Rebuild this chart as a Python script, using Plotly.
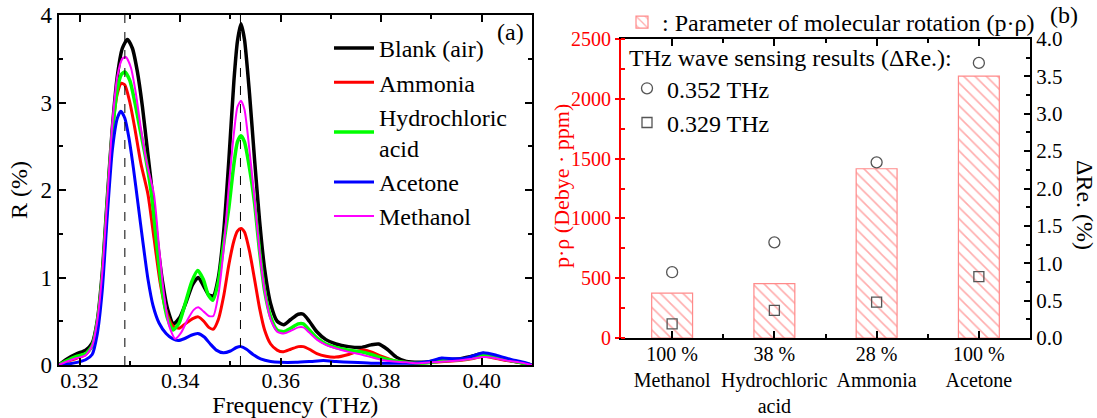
import plotly.graph_objects as go

# ---------------- Panel (a) data: reflectance spectra ----------------
blank_f = [0.3158, 0.3175, 0.3195, 0.3212, 0.3225, 0.3235, 0.3245, 0.3255, 0.3265, 0.3275, 0.3285, 0.3295,
           0.3305, 0.3315, 0.3325, 0.3335, 0.3345, 0.3355, 0.3365, 0.3375, 0.3387, 0.3400, 0.3412, 0.3425,
           0.3436, 0.3447, 0.3457, 0.3466, 0.3476, 0.3487, 0.3497, 0.3507, 0.3514, 0.3521, 0.3528, 0.3538,
           0.3548, 0.3558, 0.3568, 0.3580, 0.3593, 0.3606, 0.3620, 0.3635, 0.3645, 0.3657, 0.3672, 0.3690,
           0.3710, 0.3735, 0.3760, 0.3780, 0.3795, 0.3812, 0.3830, 0.3850, 0.3875, 0.3900, 0.3925, 0.3955,
           0.3980, 0.4003, 0.4025, 0.4050, 0.4075, 0.4100]
blank_r = [0.00, 0.07, 0.13, 0.17, 0.25, 0.50, 1.05, 1.90, 2.70, 3.30, 3.62, 3.72,
           3.62, 3.35, 2.95, 2.45, 1.95, 1.40, 0.95, 0.64, 0.47, 0.55, 0.72, 0.92,
           1.00, 0.90, 0.80, 0.79, 1.00, 1.55, 2.35, 3.25, 3.70, 3.90, 3.72, 3.10,
           2.35, 1.65, 1.10, 0.70, 0.50, 0.46, 0.52, 0.58, 0.58, 0.50, 0.38, 0.29,
           0.24, 0.21, 0.20, 0.23, 0.24, 0.18, 0.09, 0.04, 0.03, 0.04, 0.06, 0.07,
           0.10, 0.13, 0.10, 0.06, 0.03, 0.00]

ammonia_f = [0.3158, 0.3175, 0.3195, 0.3212, 0.3225, 0.3235, 0.3245, 0.3255, 0.3265, 0.3275, 0.3283, 0.3290,
             0.3300, 0.3310, 0.3322, 0.3336, 0.3348, 0.3360, 0.3372, 0.3385, 0.3398, 0.3410, 0.3425, 0.3436,
             0.3447, 0.3457, 0.3466, 0.3476, 0.3487, 0.3497, 0.3507, 0.3514, 0.3521, 0.3528, 0.3538, 0.3548,
             0.3558, 0.3568, 0.3580, 0.3593, 0.3604, 0.3620, 0.3635, 0.3645, 0.3657, 0.3672, 0.3690, 0.3710,
             0.3735, 0.3755, 0.3765, 0.3780, 0.3800, 0.3825, 0.3850, 0.3875, 0.3900, 0.3925, 0.3955, 0.3980,
             0.4003, 0.4025, 0.4050, 0.4075, 0.4100]
ammonia_r = [0.00, 0.04, 0.08, 0.12, 0.22, 0.48, 1.00, 1.85, 2.65, 3.10, 3.22, 3.20,
             3.00, 2.70, 2.30, 1.95, 1.45, 0.95, 0.62, 0.45, 0.42, 0.47, 0.53, 0.55,
             0.50, 0.43, 0.41, 0.52, 0.80, 1.15, 1.42, 1.53, 1.56, 1.52, 1.30, 0.98,
             0.65, 0.40, 0.24, 0.17, 0.15, 0.18, 0.21, 0.21, 0.18, 0.13, 0.10, 0.09,
             0.12, 0.16, 0.17, 0.15, 0.10, 0.05, 0.03, 0.02, 0.03, 0.04, 0.05, 0.07,
             0.10, 0.08, 0.05, 0.03, 0.00]

hcl_f = [0.3158, 0.3175, 0.3195, 0.3212, 0.3225, 0.3235, 0.3245, 0.3255, 0.3265, 0.3275, 0.3283, 0.3290,
         0.3300, 0.3310, 0.3320, 0.3332, 0.3343, 0.3353, 0.3363, 0.3374, 0.3386, 0.3398, 0.3410, 0.3423,
         0.3435, 0.3446, 0.3456, 0.3465, 0.3476, 0.3487, 0.3497, 0.3507, 0.3514, 0.3521, 0.3528, 0.3538,
         0.3548, 0.3558, 0.3568, 0.3580, 0.3593, 0.3606, 0.3620, 0.3635, 0.3645, 0.3657, 0.3672, 0.3690,
         0.3710, 0.3735, 0.3760, 0.3780, 0.3800, 0.3825, 0.3850, 0.3875, 0.3900, 0.3925, 0.3955, 0.3980,
         0.4003, 0.4025, 0.4050, 0.4075, 0.4100]
hcl_r = [0.00, 0.05, 0.10, 0.13, 0.22, 0.48, 1.00, 1.85, 2.65, 3.15, 3.32, 3.35,
         3.25, 3.00, 2.70, 2.35, 1.95, 1.40, 0.90, 0.55, 0.40, 0.48, 0.70, 0.95,
         1.08, 0.98, 0.80, 0.74, 0.95, 1.40, 1.80, 2.30, 2.55, 2.62, 2.55, 2.25,
         1.85, 1.30, 0.85, 0.55, 0.40, 0.38, 0.42, 0.47, 0.47, 0.40, 0.31, 0.24,
         0.20, 0.17, 0.15, 0.12, 0.08, 0.05, 0.03, 0.02, 0.03, 0.05, 0.06, 0.08,
         0.11, 0.09, 0.06, 0.03, 0.00]

acetone_f = [0.3158, 0.3175, 0.3195, 0.3212, 0.3225, 0.3235, 0.3245, 0.3255, 0.3265, 0.3275, 0.3282, 0.3290,
             0.3298, 0.3307, 0.3316, 0.3326, 0.3336, 0.3346, 0.3358, 0.3372, 0.3385, 0.3396, 0.3408, 0.3422,
             0.3435, 0.3448, 0.3460, 0.3472, 0.3486, 0.3500, 0.3512, 0.3521, 0.3532, 0.3545, 0.3560, 0.3580,
             0.3600, 0.3630, 0.3660, 0.3685, 0.3710, 0.3740, 0.3780, 0.3820, 0.3860, 0.3895, 0.3920, 0.3945,
             0.3970, 0.4003, 0.4030, 0.4060, 0.4085, 0.4100]
acetone_r = [0.00, 0.01, 0.03, 0.06, 0.12, 0.35, 0.85, 1.70, 2.45, 2.82, 2.90, 2.82,
             2.60, 2.25, 1.85, 1.40, 0.98, 0.68, 0.48, 0.36, 0.30, 0.28, 0.30, 0.34,
             0.36, 0.32, 0.24, 0.17, 0.14, 0.16, 0.20, 0.21, 0.18, 0.12, 0.07, 0.04,
             0.03, 0.03, 0.04, 0.05, 0.04, 0.03, 0.02, 0.02, 0.02, 0.04, 0.08, 0.07,
             0.08, 0.14, 0.11, 0.06, 0.03, 0.00]

methanol_f = [0.3158, 0.3175, 0.3195, 0.3212, 0.3225, 0.3235, 0.3245, 0.3255, 0.3265, 0.3275, 0.3285, 0.3292,
              0.3302, 0.3312, 0.3322, 0.3334, 0.3348, 0.3358, 0.3368, 0.3378, 0.3390, 0.3402, 0.3415, 0.3427,
              0.3436, 0.3447, 0.3457, 0.3466, 0.3476, 0.3487, 0.3497, 0.3507, 0.3514, 0.3521, 0.3528, 0.3538,
              0.3548, 0.3558, 0.3568, 0.3580, 0.3593, 0.3606, 0.3620, 0.3635, 0.3645, 0.3657, 0.3672, 0.3690,
              0.3710, 0.3735, 0.3760, 0.3780, 0.3800, 0.3825, 0.3850, 0.3875, 0.3900, 0.3925, 0.3955, 0.3980,
              0.4003, 0.4025, 0.4050, 0.4075, 0.4100]
methanol_r = [0.00, 0.04, 0.08, 0.11, 0.22, 0.50, 1.05, 1.90, 2.75, 3.30, 3.50, 3.52,
              3.40, 3.10, 2.70, 2.30, 1.95, 1.35, 0.80, 0.45, 0.30, 0.37, 0.52, 0.63,
              0.66, 0.61, 0.56, 0.56, 0.80, 1.35, 2.05, 2.65, 2.95, 3.02, 2.92, 2.45,
              1.90, 1.30, 0.85, 0.52, 0.38, 0.36, 0.39, 0.43, 0.43, 0.37, 0.29, 0.23,
              0.19, 0.15, 0.12, 0.09, 0.06, 0.04, 0.03, 0.02, 0.03, 0.04, 0.05, 0.07,
              0.09, 0.08, 0.05, 0.03, 0.00]

marked_freqs = [0.329, 0.352]
freq_range = [0.3158, 0.41]

# ---------------- Panel (b) data ----------------
gases = ["Methanol", "Hydrochloric<br>acid", "Ammonia", "Acetone"]
concentrations = ["100 %", "38 %", "28 %", "100 %"]
p_rho = [375, 455, 1415, 2190]                 # Debye·ppm
dre_352 = [0.88, 1.28, 2.35, 3.68]             # ΔRe. (%) at 0.352 THz
dre_329 = [0.19, 0.37, 0.48, 0.82]             # ΔRe. (%) at 0.329 THz

FONT = "Liberation Serif, Times New Roman, Times, DejaVu Serif, serif"

fig = go.Figure()

spectra = [
    ("Blank (air)", blank_f, blank_r, "#000000", 3.5),
    ("Ammonia", ammonia_f, ammonia_r, "#ff0000", 3.0),
    ("Hydrochloric<br>acid", hcl_f, hcl_r, "#00ff00", 3.5),
    ("Acetone", acetone_f, acetone_r, "#0000ff", 3.0),
    ("Methanol", methanol_f, methanol_r, "#ff00ff", 2.0),
]
for name, f, r, c, w in spectra:
    fig.add_trace(go.Scatter(x=f, y=r, mode="lines", name=name,
                             line=dict(color=c, width=w, shape="spline", smoothing=0.6),
                             xaxis="x", yaxis="y", legend="legend"))

for fm in marked_freqs:
    fig.add_vline(x=fm, line=dict(color="black", width=1, dash="dash"), xref="x", yref="y")

# panel (b)
cat_pos = list(range(1, len(gases) + 1))
cat_text = [f"{c}<br>{g}" for c, g in zip(concentrations, gases)]
minor_pos = [p + 0.5 for p in cat_pos[:-1]]

fig.add_trace(go.Bar(x=cat_pos, y=p_rho, width=0.4, name=": Parameter of molecular rotation (p·ρ)",
                     marker=dict(color="white", line=dict(color="#ff8a8a", width=1.2),
                                 pattern=dict(shape="\\", fgcolor="#ff5a5a", bgcolor="white",
                                              size=8, solidity=0.2)),
                     xaxis="x2", yaxis="y2", legend="legend2"))
fig.add_trace(go.Scatter(x=cat_pos, y=dre_352, mode="markers", name="0.352 THz",
                         marker=dict(symbol="circle-open", size=11, color="#555555", line=dict(width=1.3)),
                         xaxis="x2", yaxis="y3", legend="legend3"))
fig.add_trace(go.Scatter(x=cat_pos, y=dre_329, mode="markers", name="0.329 THz",
                         marker=dict(symbol="square-open", size=10, color="#555555", line=dict(width=1.3)),
                         xaxis="x2", yaxis="y3", legend="legend3"))

W, H = 1097, 418
def px(x): return x / W
def py(y): return 1 - y / H

axis_common = dict(showgrid=False, zeroline=False, showline=True, linewidth=2, automargin=False,
                   tickwidth=2, tickfont=dict(family=FONT, size=23, color="black"))

fig.update_layout(
    width=W, height=H, margin=dict(l=0, r=0, t=0, b=0, autoexpand=False),
    paper_bgcolor="white", plot_bgcolor="white",
    font=dict(family=FONT, size=23, color="black"),
    xaxis=dict(domain=[px(58.5), px(532)], range=freq_range, anchor="y",
               tick0=0.32, dtick=0.02, tickformat=".2f", ticks="inside", ticklen=7,
               ticklabelstandoff=-5,
               mirror="ticks", linecolor="black", tickcolor="black",
               minor=dict(dtick=0.01, tick0=0.32, ticks="inside", ticklen=4, tickcolor="black"),
               title=dict(text="Frequency (THz)", font=dict(family=FONT, size=24), standoff=4),
               showgrid=False, zeroline=False, showline=True, linewidth=2, automargin=False,
               tickwidth=2, tickfont=dict(family=FONT, size=22, color="black")),
    yaxis=dict(domain=[py(365), py(15)], range=[0, 4], anchor="x", dtick=1,
               ticks="inside", ticklen=7, mirror="ticks", linecolor="black", tickcolor="black",
               minor=dict(dtick=0.5, ticks="inside", ticklen=4, tickcolor="black"),
               title=dict(text="R (%)", font=dict(family=FONT, size=24), standoff=6),
               **axis_common),
    xaxis2=dict(domain=[px(621), px(1030)], range=[0.5, 4.5], anchor="y2",
                tickmode="array", tickvals=cat_pos, ticktext=cat_text, ticks="inside", ticklen=7,
                tickangle=0, ticklabelstandoff=-3, mirror="ticks", linecolor="black", tickcolor="black",
                minor=dict(tickmode="array", tickvals=minor_pos, ticks="inside", ticklen=4,
                           tickcolor="black"),
                showgrid=False, zeroline=False, showline=True, linewidth=2, tickwidth=2,
                automargin=False, tickfont=dict(family=FONT, size=20, color="black")),
    yaxis2=dict(domain=[py(338), py(39)], range=[0, 2500], anchor="x2", dtick=500,
                ticks="outside", ticklen=4, linecolor="red", tickcolor="red",
                minor=dict(dtick=250, ticks="inside", ticklen=4, tickcolor="red"),
                showgrid=False, zeroline=False, showline=True, linewidth=2, tickwidth=2,
                automargin=False, tickfont=dict(family=FONT, size=20, color="red")),
    yaxis3=dict(range=[0, 4.0], anchor="x2", overlaying="y2", side="right", dtick=0.5,
                tickformat=".1f", ticks="inside", ticklen=6, linecolor="black", tickcolor="black",
                minor=dict(dtick=0.25, ticks="inside", ticklen=4, tickcolor="black"),
                showgrid=False, zeroline=False, showline=True, linewidth=2, tickwidth=2,
                automargin=False, tickfont=dict(family=FONT, size=21, color="black")),
    legend=dict(x=px(329), y=py(26), xanchor="left", yanchor="top", bgcolor="rgba(0,0,0,0)",
                font=dict(family=FONT, size=24), itemwidth=40, tracegroupgap=0),
    legend2=dict(x=px(622), y=py(0), xanchor="left", yanchor="top", bgcolor="rgba(0,0,0,0)",
                 font=dict(family=FONT, size=24), orientation="h"),
    legend3=dict(x=px(627), y=py(35), xanchor="left", yanchor="top", bgcolor="rgba(0,0,0,0)",
                 font=dict(family=FONT, size=24), itemwidth=30,
                 title=dict(text="THz wave sensing results (ΔRe.):", side="top",
                            font=dict(family=FONT, size=24))),
    showlegend=True,
    annotations=[
        dict(text="(a)", x=px(510), y=py(32), xref="paper", yref="paper", showarrow=False,
             xanchor="center", yanchor="middle", font=dict(family=FONT, size=24)),
        dict(text="(b)", x=px(1064), y=py(15), xref="paper", yref="paper", showarrow=False,
             xanchor="center", yanchor="middle", font=dict(family=FONT, size=24)),
        dict(text="p·ρ (Debye · ppm)", x=px(561), y=py(186), xref="paper", yref="paper",
             showarrow=False, xanchor="center", yanchor="middle", textangle=-90,
             font=dict(family=FONT, size=22, color="red")),
        dict(text="ΔRe. (%)", x=px(1085), y=py(205), xref="paper", yref="paper", showarrow=False,
             xanchor="center", yanchor="middle", textangle=90, font=dict(family=FONT, size=24)),
    ],
)

fig.write_html("out.html")
